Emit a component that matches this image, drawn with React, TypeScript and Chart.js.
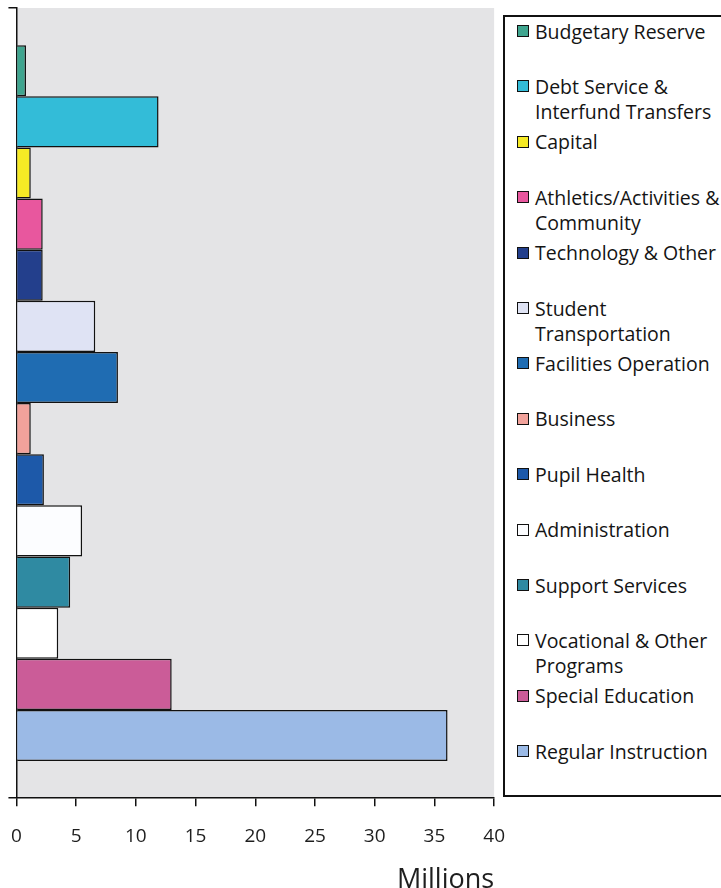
import React, { useEffect, useRef } from "react";
import { Chart, registerables } from "chart.js";

Chart.register(...registerables);

// ---- Data (top to bottom, matching legend order) ----
const categories: string[] = [
  "Budgetary Reserve",
  "Debt Service & Interfund Transfers",
  "Capital",
  "Athletics/Activities & Community",
  "Technology & Other",
  "Student Transportation",
  "Facilities Operation",
  "Business",
  "Pupil Health",
  "Administration",
  "Support Services",
  "Vocational & Other Programs",
  "Special Education",
  "Regular Instruction",
];

// legend text as wrapped in the original
const legendLines: string[][] = [
  ["Budgetary Reserve"],
  ["Debt Service &", "Interfund Transfers"],
  ["Capital"],
  ["Athletics/Activities &", "Community"],
  ["Technology & Other"],
  ["Student", "Transportation"],
  ["Facilities Operation"],
  ["Business"],
  ["Pupil Health"],
  ["Administration"],
  ["Support Services"],
  ["Vocational & Other", "Programs"],
  ["Special Education"],
  ["Regular Instruction"],
];

// values in millions
const values: number[] = [0.8, 11.9, 1.2, 2.2, 2.2, 6.6, 8.5, 1.2, 2.3, 5.5, 4.5, 3.5, 13.0, 36.1];

const colors: string[] = [
  "#3fa58f",
  "#33bcd8",
  "#f6ea25",
  "#e8579e",
  "#233f8c",
  "#dfe3f4",
  "#1f6cb2",
  "#f1a29b",
  "#1d59a9",
  "#fcfdff",
  "#2f8aa2",
  "#ffffff",
  "#cb5c98",
  "#9bbae6",
];

const xMin = 0;
const xMax = 40;
const xStep = 5;
const xTitle = "Millions";
const groupLabel: string[] = [""];

const FONT = "'Open Sans', 'DejaVu Sans', sans-serif";

const bgPlugin = {
  id: "plotBg",
  beforeDraw(chart: any) {
    const { ctx, chartArea } = chart;
    if (!chartArea) return;
    ctx.save();
    ctx.fillStyle = "#e4e4e6";
    ctx.fillRect(chartArea.left, chartArea.top, chartArea.right - chartArea.left, chartArea.bottom - chartArea.top);
    ctx.restore();
  },
};

export default function App() {
  const canvasRef = useRef<HTMLCanvasElement | null>(null);

  useEffect(() => {
    if (!canvasRef.current) return;
    const chart = new Chart(canvasRef.current, {
      type: "bar",
      data: {
        labels: groupLabel,
        datasets: categories.map((name, i) => ({
          label: name,
          data: [values[i]],
          backgroundColor: colors[i],
          borderColor: "#111111",
          borderWidth: 1.5,
          categoryPercentage: 0.906,
          barPercentage: 1,
        })),
      },
      options: {
        indexAxis: "y",
        animation: false,
        responsive: false,
        maintainAspectRatio: false,
        layout: { padding: { left: 5, top: 8, right: 0, bottom: 0 } },
        plugins: {
          legend: { display: false },
          tooltip: { enabled: false },
        },
        scales: {
          x: {
            type: "linear",
            min: xMin,
            max: xMax,
            ticks: {
              stepSize: xStep,
              color: "#1e1e1e",
              padding: 19,
              font: { family: FONT, size: 19 },
            },
            grid: {
              drawOnChartArea: false,
              drawTicks: true,
              tickLength: 8,
              color: "#111",
              lineWidth: 1.5,
            },
            border: { display: true, color: "#111", width: 1.5 },
            title: {
              display: true,
              text: xTitle,
              align: "end",
              color: "#1e1e1e",
              font: { family: FONT, size: 27, lineHeight: 1.0 },
              padding: { top: 0, bottom: 0 },
            },
          },
          y: {
            type: "category",
            ticks: { display: false },
            grid: {
              drawOnChartArea: false,
              drawTicks: true,
              tickLength: 8,
              color: "#111",
              lineWidth: 1.5,
              offset: true,
            },
            border: { display: true, color: "#111", width: 1.5 },
          },
        },
      },
      plugins: [bgPlugin],
    } as any);
    return () => chart.destroy();
  }, []);

  const boxLeft = 503;
  const boxTop = 15;
  const firstCenter = 31;
  const spacing = 55.4;
  const lineH = 25;

  return (
    <div
      style={{
        position: "absolute",
        left: 0,
        top: 0,
        width: 721,
        height: 888,
        overflow: "hidden",
        background: "#ffffff",
        fontFamily: FONT,
      }}
    >
      <canvas
        ref={canvasRef}
        width={532}
        height={894}
        style={{ position: "absolute", left: -8, top: 0, display: "block" }}
      />
      <div
        style={{
          position: "absolute",
          left: boxLeft,
          top: boxTop,
          width: 240,
          height: 797 - boxTop,
          border: "2px solid #111",
          boxSizing: "border-box",
          background: "#fff",
        }}
      >
        {legendLines.map((lines, i) => (
          <div
            key={categories[i]}
            style={{
              position: "absolute",
              left: 12,
              top: firstCenter + spacing * i - lineH / 2 - boxTop - 2,
              display: "flex",
              alignItems: "flex-start",
              whiteSpace: "nowrap",
            }}
          >
            <div
              style={{
                width: 12,
                height: 12,
                marginTop: (lineH - 12) / 2,
                border: "1.5px solid #111",
                boxSizing: "border-box",
                background: colors[i],
                flex: "0 0 auto",
              }}
            />
            <div
              style={{
                marginLeft: 6,
                fontSize: 19.5,
                fontWeight: 500,
                lineHeight: lineH + "px",
                color: "#141414",
              }}
            >
              {lines.map((t) => (
                <div key={t}>{t}</div>
              ))}
            </div>
          </div>
        ))}
      </div>
    </div>
  );
}
